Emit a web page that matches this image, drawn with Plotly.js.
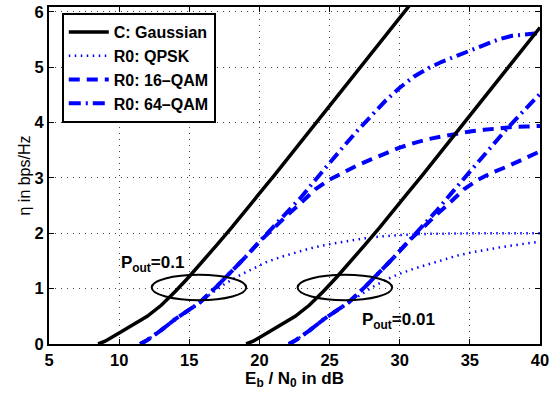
<!DOCTYPE html>
<html>
<head>
<meta charset="utf-8">
<script src="https://cdn.plot.ly/plotly-3.0.1.min.js"></script>
<style>html,body{margin:0;padding:0;background:#fff;}</style>
</head>
<body>
<div id="chart" style="width:550px;height:398px;"></div>
<script>
// ---- data ----
const gaussX1 = [8.5, 9, 10, 11, 12, 13, 13.5, 14, 15, 16, 17, 18, 19, 20, 21, 22, 23, 24, 25, 26, 27, 28, 29, 30, 30.8];
const gaussY1 = [0, 0.05, 0.2, 0.35, 0.5, 0.7, 0.82, 0.95, 1.22, 1.5, 1.8, 2.1, 2.4, 2.72, 3.03, 3.35, 3.67, 3.98, 4.3, 4.62, 4.94, 5.26, 5.58, 5.9, 6.15];
const gaussX2 = [19.05, 19.55, 20.55, 21.55, 22.55, 23.55, 24.05, 24.55, 25.55, 26.55, 27.55, 28.55, 29.55, 30.55, 31.55, 32.55, 33.55, 34.55, 35.55, 36.55, 37.55, 38.55, 39.55, 40];
const gaussY2 = [0, 0.05, 0.2, 0.35, 0.5, 0.7, 0.82, 0.95, 1.22, 1.5, 1.8, 2.1, 2.4, 2.72, 3.03, 3.35, 3.67, 3.98, 4.3, 4.62, 4.94, 5.26, 5.58, 5.72];

const qpskX1 = [11.5, 12, 13, 14, 15, 15.75, 16.5, 17.5, 18.5, 19.5, 20.5, 21.5, 22.5, 23.5, 24.5, 25.5, 26.5, 27.5, 28.5, 30, 32, 35, 40];
const qpskY1 = [0, 0.07, 0.25, 0.45, 0.62, 0.75, 0.9, 1.08, 1.23, 1.36, 1.48, 1.57, 1.65, 1.72, 1.78, 1.83, 1.87, 1.91, 1.94, 1.97, 1.99, 2.0, 2.0];
const qpskX2 = [22.1, 22.6, 23.6, 24.6, 25.6, 26.35, 27, 28, 29, 30, 31, 32, 33, 34, 35, 36, 37, 38, 39, 40];
const qpskY2 = [0, 0.07, 0.25, 0.45, 0.62, 0.75, 0.86, 1.02, 1.16, 1.27, 1.36, 1.44, 1.52, 1.59, 1.65, 1.7, 1.74, 1.78, 1.82, 1.85];

const qam16X1 = [11.5, 12, 13, 14, 15, 15.75, 17, 18, 19, 20, 21, 22, 23, 24, 25, 26, 27, 28, 29, 30, 31, 32, 33, 34, 35, 36, 37, 38, 39, 40];
const qam16Y1 = [0, 0.07, 0.25, 0.45, 0.62, 0.75, 1.05, 1.3, 1.57, 1.85, 2.1, 2.33, 2.56, 2.8, 2.97, 3.11, 3.23, 3.34, 3.45, 3.55, 3.63, 3.7, 3.75, 3.8, 3.84, 3.87, 3.9, 3.92, 3.93, 3.94];
const qam16X2 = [22.1, 22.6, 23.6, 24.6, 25.6, 26.35, 27.6, 28.6, 29.6, 30.6, 31.6, 32.6, 33.6, 34.6, 35.6, 36.6, 37.6, 38.6, 39.6, 40];
const qam16Y2 = [0, 0.07, 0.25, 0.45, 0.62, 0.75, 1.05, 1.3, 1.57, 1.85, 2.1, 2.33, 2.56, 2.8, 2.97, 3.1, 3.2, 3.31, 3.43, 3.48];

const qam64X1 = [11.5, 12, 13, 14, 15, 15.75, 17, 18, 19, 20, 21, 22, 23, 24, 25, 26, 27, 28, 29, 30, 31, 32, 33, 34, 35, 36, 37, 38, 39, 40];
const qam64Y1 = [0, 0.07, 0.25, 0.45, 0.62, 0.75, 1.05, 1.3, 1.57, 1.85, 2.12, 2.38, 2.66, 2.97, 3.28, 3.57, 3.86, 4.14, 4.4, 4.63, 4.83, 4.98, 5.1, 5.2, 5.3, 5.4, 5.5, 5.57, 5.6, 5.62];
const qam64X2 = [22.1, 22.6, 23.6, 24.6, 25.6, 26.35, 27.6, 28.6, 29.6, 30.6, 31.6, 32.6, 33.6, 34.6, 35.6, 36.6, 37.6, 38.6, 39.6, 40];
const qam64Y2 = [0, 0.07, 0.25, 0.45, 0.62, 0.75, 1.05, 1.3, 1.57, 1.85, 2.12, 2.4, 2.7, 3.0, 3.3, 3.6, 3.88, 4.15, 4.42, 4.52];

const seriesNames = ['C: Gaussian', 'R0: QPSK', 'R0: 16\u2013QAM', 'R0: 64\u2013QAM'];
const xTicks = [5, 10, 15, 20, 25, 30, 35, 40];
const yTicks = [0, 1, 2, 3, 4, 5, 6];

// outage ellipses: centre x, centre y, half-width (dB), half-height
const ellipseCX = [15.69, 26.09];
const ellipseCY = [1.02, 1.02];
const ellipseRX = [3.37, 3.37];
const ellipseRY = [0.23, 0.23];
const outageLabels = ['P<sub>out</sub>=0.1', 'P<sub>out</sub>=0.01'];
const outageLabelX = [10.0, 27.2];
const outageLabelY = [1.45, 0.42];

// ---- styles ----
const FONT = 'Liberation Sans, Arial, Helvetica, sans-serif';
const styles = [
  {color: '#000000', width: 3.5, dash: 'solid'},
  {color: '#0000ff', width: 2.5, dash: '1.5px,4.5px'},
  {color: '#0000ff', width: 4, dash: '11px,7px'},
  {color: '#0000ff', width: 4, dash: '12px,5px,2px,5px'}
];

const pairs = [
  [gaussX1, gaussY1, gaussX2, gaussY2],
  [qpskX1, qpskY1, qpskX2, qpskY2],
  [qam16X1, qam16Y1, qam16X2, qam16Y2],
  [qam64X1, qam64Y1, qam64X2, qam64Y2]
];

const traces = [];
pairs.forEach((p, i) => {
  traces.push({x: p[0], y: p[1], type: 'scatter', mode: 'lines', name: seriesNames[i],
    legendgroup: 'g' + i, line: styles[i]});
});
pairs.forEach((p, i) => {
  traces.push({x: p[2], y: p[3], type: 'scatter', mode: 'lines', name: seriesNames[i],
    legendgroup: 'g' + i, showlegend: false, line: styles[i]});
});

const shapes = ellipseCX.map((cx, i) => ({
  type: 'circle', xref: 'x', yref: 'y',
  x0: cx - ellipseRX[i], x1: cx + ellipseRX[i],
  y0: ellipseCY[i] - ellipseRY[i], y1: ellipseCY[i] + ellipseRY[i],
  line: {color: '#000', width: 2}
}));

const annotations = outageLabels.map((t, i) => ({
  x: outageLabelX[i], y: outageLabelY[i], xref: 'x', yref: 'y',
  text: '<b>' + t + '</b>', showarrow: false, xanchor: 'left', yanchor: 'middle',
  font: {family: FONT, size: 17, color: '#000'}
}));

const axisCommon = {
  showline: true, linewidth: 2, linecolor: '#000', mirror: 'ticks',
  ticks: 'inside', ticklen: 5, tickwidth: 1, tickcolor: '#000',
  showgrid: true, gridcolor: '#444', gridwidth: 1, griddash: '1px,5px',
  zeroline: false,
  tickfont: {family: FONT, size: 16.5, color: '#000', weight: 'bold'}
};

const layout = {
  width: 550, height: 398,
  margin: {l: 49, r: 10, t: 6.5, b: 53.7},
  paper_bgcolor: '#fff', plot_bgcolor: '#fff',
  showlegend: true,
  xaxis: Object.assign({}, axisCommon, {
    range: [5, 40], tickvals: xTicks,
    title: {text: 'E<sub>b</sub> / N<sub>0</sub> in dB', font: {family: FONT, size: 17, color: '#000', weight: 'bold'}, standoff: 2}
  }),
  yaxis: Object.assign({}, axisCommon, {
    range: [0, 6.09], tickvals: yTicks,
    title: {text: '\u03b7 in bps/Hz', font: {family: FONT, size: 16, color: '#000'}, standoff: 0}
  }),
  legend: {
    x: 0.026, y: 0.982, xanchor: 'left', yanchor: 'top',
    bgcolor: '#fff', bordercolor: '#000', borderwidth: 2,
    font: {family: FONT, size: 16, color: '#000', weight: 'bold'},
    tracegroupgap: 0, itemwidth: 40
  },
  shapes: shapes,
  annotations: annotations
};

Plotly.newPlot('chart', traces, layout, {displayModeBar: false, staticPlot: true});
</script>
</body>
</html>
